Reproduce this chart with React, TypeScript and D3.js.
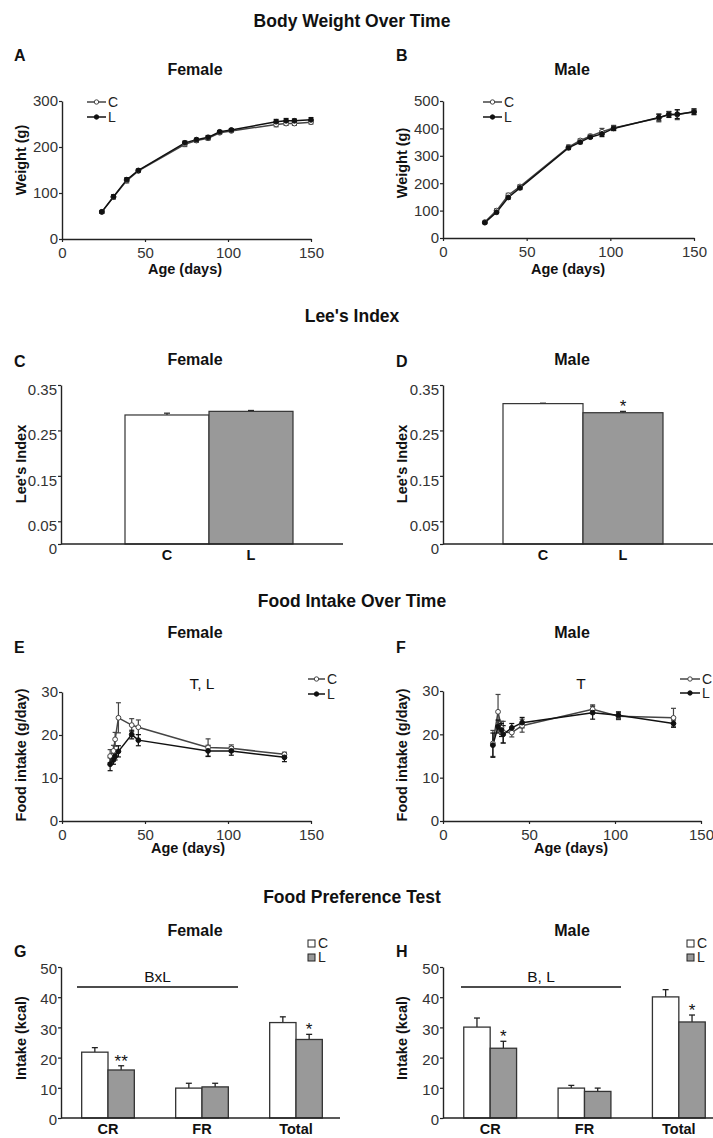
import React, { useEffect, useRef } from 'react';
import * as d3 from 'd3';

const W = 713;
const H = 1138;

// Body weight (A, B)
const femaleWeightAge = [24, 31, 39, 46, 74, 81, 88, 95, 102, 129, 135, 140, 150];
const femaleWeightC = [59, 91, 127, 148, 206, 214, 219, 231, 235, 249, 251, 251, 254];
const femaleWeightCErr = [3, 4, 5, 3, 5, 4, 4, 3, 3, 5, 4, 4, 4];
const femaleWeightL = [59, 92, 129, 149, 209, 216, 221, 233, 237, 255, 257, 257, 259];
const femaleWeightLErr = [3, 4, 4, 3, 4, 3, 4, 3, 3, 5, 5, 4, 5];

const maleWeightAge = [25, 32, 39, 46, 75, 82, 88, 95, 102, 129, 135, 140, 150];
const maleWeightC = [58, 100, 156, 188, 332, 356, 372, 388, 402, 438, 452, 450, 462];
const maleWeightCErr = [4, 6, 7, 6, 7, 6, 6, 12, 9, 14, 10, 18, 10];
const maleWeightL = [56, 94, 148, 183, 329, 350, 368, 380, 400, 440, 450, 452, 460];
const maleWeightLErr = [4, 5, 6, 6, 6, 6, 5, 10, 8, 12, 10, 16, 10];

// Lee's index (C, D)
const leeGroups = ['C', 'L'];
const leeFemale = [0.284, 0.292];
const leeFemaleErr = [0.004, 0.002];
const leeMale = [0.309, 0.289];
const leeMaleErr = [0.001, 0.003];

// Food intake (E, F)
const femaleIntakeAge = [29, 31, 32, 34, 42, 46, 88, 102, 134];
const femaleIntakeC = [15.1, 16.3, 19.0, 24.0, 22.3, 21.8, 17.1, 16.9, 15.5];
const femaleIntakeCErr = [1.5, 1.3, 1.6, 3.5, 1.5, 1.7, 2.0, 0.8, 0.5];
const femaleIntakeL = [13.2, 14.2, 15.0, 16.2, 20.1, 18.8, 16.3, 16.3, 14.8];
const femaleIntakeLErr = [1.5, 1.0, 0.8, 1.3, 1.0, 1.3, 1.3, 1.0, 1.0];

const maleIntakeAge = [29, 32, 34, 35, 40, 46, 87, 102, 134];
const maleIntakeC = [17.9, 25.2, 21.5, 20.5, 20.4, 22.0, 25.8, 24.2, 23.8];
const maleIntakeCErr = [3.0, 4.0, 1.5, 2.5, 1.0, 1.5, 1.0, 0.8, 2.2];
const maleIntakeL = [17.5, 21.8, 21.0, 20.0, 21.5, 22.7, 25.0, 24.4, 22.5];
const maleIntakeLErr = [2.8, 1.5, 1.5, 2.0, 1.0, 1.2, 1.5, 0.8, 0.8];

// Food preference (G, H)
const prefCategories = ['CR', 'FR', 'Total'];
const prefFemaleC = [21.8, 9.9, 31.6];
const prefFemaleCErr = [1.5, 1.6, 1.9];
const prefFemaleL = [15.9, 10.3, 26.0];
const prefFemaleLErr = [1.4, 1.2, 1.7];
const prefFemaleStars = ['**', '', '*'];
const prefMaleC = [30.1, 9.9, 40.1];
const prefMaleCErr = [3.0, 0.9, 2.4];
const prefMaleL = [23.1, 8.8, 31.8];
const prefMaleLErr = [2.3, 1.1, 2.3];
const prefMaleStars = ['*', '', '*'];

const FONT = 'Arial, "Liberation Sans", sans-serif';
const INK = '#222';

const App = () => {
  const svgRef = useRef<SVGSVGElement>(null);

  useEffect(() => {
    const svg = d3.select(svgRef.current);
    svg.selectAll('*').remove();
    svg.style('font-family', FONT);

    const text = (x, y, s, size, bold = false, anchor = 'middle') =>
      svg.append('text')
        .attr('x', x).attr('y', y)
        .attr('text-anchor', anchor)
        .attr('font-size', size)
        .attr('font-weight', bold ? 'bold' : 'normal')
        .attr('fill', '#111')
        .text(s);

    const vText = (x, y, s) =>
      svg.append('text')
        .attr('transform', `translate(${x},${y}) rotate(-90)`)
        .attr('text-anchor', 'middle')
        .attr('font-size', 14.5)
        .attr('font-weight', 'bold')
        .attr('fill', '#111')
        .text(s);

    const styleAxis = (g, dy = null) => {
      g.select('.domain').attr('stroke', INK).attr('stroke-width', 1.4);
      g.selectAll('.tick line').attr('stroke', INK).attr('stroke-width', 1.2);
      g.selectAll('.tick text')
        .attr('font-size', 15)
        .attr('font-family', FONT)
        .attr('fill', '#333');
      if (dy) g.selectAll('.tick text').attr('dy', dy);
    };

    // section titles
    text(352, 27, 'Body Weight Over Time', 17.5, true);
    text(352, 322, "Lee's Index", 17.5, true);
    text(352, 607, 'Food Intake Over Time', 17.5, true);
    text(352, 903, 'Food Preference Test', 17.5, true);

    // panel headers
    const headers = [
      ['A', 'B', 61, 75],
      ['C', 'D', 367, 365],
      ['E', 'F', 653, 638],
      ['G', 'H', 957, 936],
    ];
    headers.forEach(([l, r, ly, ty]) => {
      text(14, ly, l, 16, true, 'start');
      text(396, ly, r, 16, true, 'start');
      text(195, ty, 'Female', 16, true);
      text(572, ty, 'Male', 16, true);
    });

    const linePanel = (o) => {
      const x = d3.scaleLinear().domain([0, 150]).range(o.xRange);
      const y = d3.scaleLinear().domain([0, o.yMax]).range(o.yRange);
      const g = svg.append('g');

      const ax = g.append('g')
        .attr('transform', `translate(0,${o.yRange[0]})`)
        .call(d3.axisBottom(x).tickValues([0, 50, 100, 150]).tickSize(3).tickSizeOuter(0).tickPadding(5));
      styleAxis(ax);
      const ay = g.append('g')
        .attr('transform', `translate(${o.xRange[0]},0)`)
        .call(d3.axisLeft(y).tickValues(o.yTicks).tickSize(3).tickSizeOuter(0).tickPadding(1));
      styleAxis(ay);

      const series = [
        { v: o.c, e: o.cErr, open: true, stroke: '#444' },
        { v: o.l, e: o.lErr, open: false, stroke: '#111' },
      ];
      series.forEach((s) => {
        const pts = o.ages.map((a, i) => ({ a, v: s.v[i], e: s.e[i] }));
        const eb = g.append('g').attr('stroke', s.stroke).attr('stroke-width', 1.2);
        pts.forEach((p) => {
          const x0 = x(p.a);
          eb.append('line').attr('x1', x0).attr('x2', x0).attr('y1', y(p.v - p.e)).attr('y2', y(p.v + p.e));
          eb.append('line').attr('x1', x0 - 2.5).attr('x2', x0 + 2.5).attr('y1', y(p.v + p.e)).attr('y2', y(p.v + p.e));
          eb.append('line').attr('x1', x0 - 2.5).attr('x2', x0 + 2.5).attr('y1', y(p.v - p.e)).attr('y2', y(p.v - p.e));
        });
        g.append('path')
          .datum(pts)
          .attr('fill', 'none')
          .attr('stroke', s.stroke)
          .attr('stroke-width', 1.5)
          .attr('d', d3.line<any>().x((d) => x(d.a)).y((d) => y(d.v)));
      });
      series.forEach((s) => {
        g.selectAll(null)
          .data(o.ages.map((a, i) => ({ a, v: s.v[i] })))
          .enter()
          .append('circle')
          .attr('cx', (d) => x(d.a))
          .attr('cy', (d) => y(d.v))
          .attr('r', 2.4)
          .attr('fill', s.open ? '#fff' : '#111')
          .attr('stroke', s.open ? '#444' : '#111')
          .attr('stroke-width', 1);
      });

      // legend
      const [lx1, lx2] = o.legendX;
      [['C', true, o.legendY[0]], ['L', false, o.legendY[1]]].forEach(([lab, open, ly]) => {
        g.append('line').attr('x1', lx1).attr('x2', lx2).attr('y1', ly).attr('y2', ly)
          .attr('stroke', open ? '#444' : '#111').attr('stroke-width', 1.5);
        g.append('circle').attr('cx', (lx1 + lx2) / 2).attr('cy', ly).attr('r', 2.2)
          .attr('fill', open ? '#fff' : '#111').attr('stroke', open ? '#444' : '#111');
        g.append('text').attr('x', lx2 + 2).attr('y', ly + 5).attr('font-size', 14)
          .attr('fill', '#222').text(lab);
      });

      vText(o.yTitleX, o.yTitleY, o.yTitle);
      text(o.xTitleX, o.xTitleY, 'Age (days)', 14.5, true);
      if (o.note) text(o.note[0], o.note[1], o.note[2], 15.5);
    };

    linePanel({
      xRange: [62, 311], yRange: [239, 101], yMax: 300, yTicks: [0, 100, 200, 300],
      ages: femaleWeightAge, c: femaleWeightC, cErr: femaleWeightCErr, l: femaleWeightL, lErr: femaleWeightLErr,
      legendX: [87, 106], legendY: [102, 117],
      yTitle: 'Weight (g)', yTitleX: 26, yTitleY: 160, xTitleX: 185, xTitleY: 274,
    });
    linePanel({
      xRange: [443, 694], yRange: [238, 101], yMax: 500, yTicks: [0, 100, 200, 300, 400, 500],
      ages: maleWeightAge, c: maleWeightC, cErr: maleWeightCErr, l: maleWeightL, lErr: maleWeightLErr,
      legendX: [483, 502], legendY: [102, 117],
      yTitle: 'Weight (g)', yTitleX: 407, yTitleY: 163, xTitleX: 568, xTitleY: 274,
    });
    linePanel({
      xRange: [62, 311], yRange: [821, 692], yMax: 30, yTicks: [0, 10, 20, 30],
      ages: femaleIntakeAge, c: femaleIntakeC, cErr: femaleIntakeCErr, l: femaleIntakeL, lErr: femaleIntakeLErr,
      legendX: [308, 325], legendY: [679, 694],
      yTitle: 'Food intake (g/day)', yTitleX: 26, yTitleY: 755, xTitleX: 188, xTitleY: 853,
      note: [202, 689, 'T, L'],
    });
    linePanel({
      xRange: [443, 701], yRange: [821, 691], yMax: 30, yTicks: [0, 10, 20, 30],
      ages: maleIntakeAge, c: maleIntakeC, cErr: maleIntakeCErr, l: maleIntakeL, lErr: maleIntakeLErr,
      legendX: [680, 700], legendY: [679, 693],
      yTitle: 'Food intake (g/day)', yTitleX: 407, yTitleY: 755, xTitleX: 571, xTitleY: 853,
      note: [581, 689, 'T'],
    });

    const leePanel = (o) => {
      const y = d3.scaleLinear().domain([0, 0.35]).range([544, 385]);
      const x = d3.scaleBand().domain(leeGroups).range(o.bandRange).padding(0);
      const g = svg.append('g');
      leeGroups.forEach((k, i) => {
        const x0 = x(k);
        const xc = x0 + x.bandwidth() / 2;
        g.append('line').attr('x1', xc).attr('x2', xc)
          .attr('y1', y(o.values[i])).attr('y2', y(o.values[i] + o.errs[i]))
          .attr('stroke', INK).attr('stroke-width', 1.2);
        g.append('line').attr('x1', xc - 3).attr('x2', xc + 3)
          .attr('y1', y(o.values[i] + o.errs[i])).attr('y2', y(o.values[i] + o.errs[i]))
          .attr('stroke', INK).attr('stroke-width', 1.2);
        g.append('rect')
          .attr('x', x0).attr('y', y(o.values[i]))
          .attr('width', x.bandwidth()).attr('height', y(0) - y(o.values[i]))
          .attr('fill', i === 0 ? '#fff' : '#999')
          .attr('stroke', '#333').attr('stroke-width', 1.2);
      });
      const ay = g.append('g')
        .attr('transform', `translate(${o.axisX[0]},0)`)
        .call(d3.axisLeft(y).tickValues([0, 0.05, 0.15, 0.25, 0.35])
          .tickFormat((d) => (d === 0 ? '0' : d3.format('.2f')(d)))
          .tickSize(3).tickSizeOuter(0).tickPadding(1));
      styleAxis(ay, '0.62em');
      g.append('line').attr('x1', o.axisX[0]).attr('x2', o.axisX[1])
        .attr('y1', y(0)).attr('y2', y(0)).attr('stroke', INK).attr('stroke-width', 1.4);
      const ax = g.append('g')
        .attr('transform', `translate(0,${y(0)})`)
        .call(d3.axisBottom(x).tickSize(0).tickPadding(6));
      ax.select('.domain').remove();
      ax.selectAll('.tick text').attr('font-size', 14.5).attr('font-weight', 'bold')
        .attr('font-family', FONT).attr('fill', '#111');
      if (o.star) {
        const i = leeGroups.indexOf(o.star);
        text(x(o.star) + x.bandwidth() / 2, y(o.values[i] + o.errs[i]) + 1, '*', 17);
      }
      vText(o.yTitleX, 464, "Lee's Index");
    };

    leePanel({ axisX: [61, 343], bandRange: [125, 293], values: leeFemale, errs: leeFemaleErr, yTitleX: 26 });
    leePanel({ axisX: [443, 713], bandRange: [503, 663], values: leeMale, errs: leeMaleErr, yTitleX: 407, star: 'L' });

    const prefPanel = (o) => {
      const y = d3.scaleLinear().domain([0, 50]).range([1118, 967]);
      const x = d3.scaleBand().domain(prefCategories).range(o.groupRange).paddingInner(0.44).paddingOuter(0.22);
      const sub = d3.scaleBand().domain(['C', 'L']).range([0, x.bandwidth()]);
      const g = svg.append('g');
      prefCategories.forEach((cat, i) => {
        [['C', o.c[i], o.cErr[i]], ['L', o.l[i], o.lErr[i]]].forEach(([k, v, e]) => {
          const x0 = x(cat) + sub(k);
          const xc = x0 + sub.bandwidth() / 2;
          g.append('line').attr('x1', xc).attr('x2', xc).attr('y1', y(v)).attr('y2', y(v + e))
            .attr('stroke', INK).attr('stroke-width', 1.3);
          g.append('line').attr('x1', xc - 3).attr('x2', xc + 3).attr('y1', y(v + e)).attr('y2', y(v + e))
            .attr('stroke', INK).attr('stroke-width', 1.3);
          g.append('rect').attr('x', x0).attr('y', y(v))
            .attr('width', sub.bandwidth()).attr('height', y(0) - y(v))
            .attr('fill', k === 'C' ? '#fff' : '#999')
            .attr('stroke', '#333').attr('stroke-width', 1.3);
        });
        if (o.stars[i]) {
          const xc = x(cat) + sub('L') + sub.bandwidth() / 2;
          text(xc, y(o.l[i] + o.lErr[i]) + 1, o.stars[i], 17);
        }
      });
      const ay = g.append('g')
        .attr('transform', `translate(${o.axisX[0]},0)`)
        .call(d3.axisLeft(y).tickValues([0, 10, 20, 30, 40, 50]).tickSize(3).tickSizeOuter(0).tickPadding(1));
      styleAxis(ay, '0.45em');
      g.append('line').attr('x1', o.axisX[0]).attr('x2', o.axisX[1])
        .attr('y1', y(0)).attr('y2', y(0)).attr('stroke', INK).attr('stroke-width', 1.4);
      const ax = g.append('g')
        .attr('transform', `translate(0,${y(0)})`)
        .call(d3.axisBottom(x).tickSize(0).tickPadding(6));
      ax.select('.domain').remove();
      ax.selectAll('.tick text').attr('font-size', 14.5).attr('font-weight', 'bold')
        .attr('font-family', FONT).attr('fill', '#111');

      // effect line
      g.append('line').attr('x1', o.effectLine[0]).attr('x2', o.effectLine[1])
        .attr('y1', 987).attr('y2', 987).attr('stroke', '#111').attr('stroke-width', 1.4);
      text((o.effectLine[0] + o.effectLine[1]) / 2, 982, o.effect, 15.5);

      // legend
      [['C', '#fff', 940], ['L', '#999', 954]].forEach(([lab, fill, ly]) => {
        g.append('rect').attr('x', o.legendX).attr('y', ly).attr('width', 7).attr('height', 7)
          .attr('fill', fill).attr('stroke', '#222').attr('stroke-width', 1);
        g.append('text').attr('x', o.legendX + 10).attr('y', ly + 7.5).attr('font-size', 14)
          .attr('fill', '#222').text(lab);
      });
      vText(o.yTitleX, 1038, 'Intake (kcal)');
    };

    prefPanel({
      groupRange: [61, 343], axisX: [61, 340], c: prefFemaleC, cErr: prefFemaleCErr,
      l: prefFemaleL, lErr: prefFemaleLErr, stars: prefFemaleStars,
      effectLine: [77, 238], effect: 'BxL', legendX: 308, yTitleX: 26,
    });
    prefPanel({
      groupRange: [443, 726], axisX: [443, 713], c: prefMaleC, cErr: prefMaleCErr,
      l: prefMaleL, lErr: prefMaleLErr, stars: prefMaleStars,
      effectLine: [461, 621], effect: 'B, L', legendX: 687, yTitleX: 407,
    });
  }, []);

  return (
    <svg
      ref={svgRef}
      width={W}
      height={H}
      style={{ position: 'absolute', left: 0, top: 0, background: '#fff', display: 'block' }}
    />
  );
};

export default App;
